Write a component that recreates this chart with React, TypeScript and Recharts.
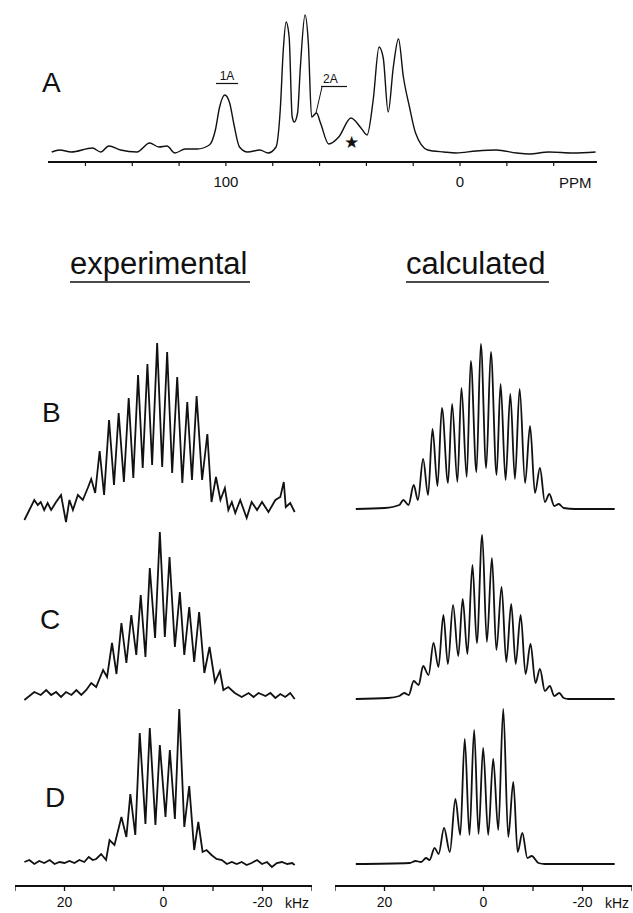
import { LineChart, Line, XAxis, YAxis } from 'recharts';

const FONT = '"Liberation Sans", Arial, Helvetica, sans-serif';
const INK = '#111';

// Panel A: 13C spectrum, chemical shift in ppm
const ppmA = [174.4, 171, 166, 157, 153.5, 150, 145, 138, 132.6, 128.6, 125.2, 121.8, 117.4, 112.3, 107.1, 104.5, 102.7, 100.5, 98.4, 96.7, 94.2, 90.7, 85.5, 82, 78.6, 76.8, 75.5, 74.3, 73, 71.7, 70.8, 69.4, 68.2, 66.2, 64.8, 63.4, 61.3, 59.6, 56.1, 51.8, 46.6, 42.3, 39.7, 37.1, 34.6, 32.8, 30.7, 28.5, 26.3, 24.2, 21.6, 19, 13.8, 6.9, 1.7, -6.9, -15.5, -24.2, -29.4, -38, -48.3, -57.9];
const intA = [0, 2, 0, 4, 0, 6, 2, 0, 9, 5, 6, -1, 3, 3, 7, 22, 45, 57, 49, 29, 5, 0, 2, -1, 5, 42, 102, 130, 115, 35, 30, 39, 85, 137, 109, 35, 39, 29, 8, 15, 34, 24, 17, 52, 105, 94, 40, 85, 113, 75, 45, 19, 2, 0, -1, 1, 2, -1, -2, 0, -1, 0];
const ppmTicks = [160, 140, 120, 100, 80, 60, 40, 20, 0, -20, -40];
const ppmLabels = [100, 0];

// Panels B-D: 2H spectra, kHz
const kHzTicks = [30, 20, 10, 0, -10, -20, -30];
const kHzLabels = [20, 0, -20];

const bExpK = [28.1, 27.1, 26.1, 25.4, 24.8, 24.1, 23.4, 22.7, 21.7, 20.7, 19.7, 19.0, 18.3, 17.3, 16.3, 15.3, 14.6, 13.8, 12.9, 12.0, 11.0, 10.0, 9.06, 8.0, 7.03, 6.1, 5.14, 4.2, 3.25, 2.3, 1.28, 0.27, -0.74, -1.75, -2.77, -3.8, -4.8, -5.75, -6.69, -7.8, -8.86, -9.7, -10.6, -11.5, -12.4, -13.1, -13.8, -14.5, -15.5, -16.8, -17.8, -18.9, -19.9, -21.2, -22.6, -23.6, -24.3, -24.7, -25.6, -26.5];
const bExpI = [-8, 2, 12, 7, 10, 2, 9, 2, 10, 17, -10, 12, 2, 17, 12, 24, 33, 19, 61, 17, 92, 27, 99, 30, 114, 34, 137, 44, 148, 47, 169, 45, 160, 39, 135, 29, 110, 32, 116, 32, 78, 10, 35, 12, 24, 2, 10, -1, 12, -6, 10, 2, 10, 0, 12, 15, 30, 5, 9, 0];

const cExpK = [28.1, 26.1, 24.8, 23.7, 22.7, 21.7, 20.7, 19.7, 18.6, 17.6, 16.6, 15.6, 14.6, 13.6, 12.2, 11.4, 10.4, 9.5, 8.5, 7.5, 6.5, 5.5, 4.6, 3.65, 2.77, 1.7, 0.74, -0.27, -1.22, -2.3, -3.3, -4.2, -5.2, -6.2, -7.2, -8.25, -9.3, -10.4, -11.4, -12.1, -13.1, -14.4, -15.8, -17.2, -18.2, -19.2, -20.6, -21.6, -22.6, -23.6, -24.6, -25.6, -26.5];
const cExpI = [-5, 3, 0, 5, 0, 3, -2, 3, 0, 5, 0, 5, 12, 8, 25, 18, 52, 21, 72, 32, 80, 40, 100, 38, 127, 57, 163, 58, 138, 48, 103, 40, 88, 33, 83, 22, 48, 13, 24, 5, 8, 2, -2, 2, -2, 2, -1, 2, -3, 1, -2, 2, -4];

const dExpK = [28.1, 27.1, 26.1, 25.1, 24.1, 23.0, 22.0, 21.0, 20.0, 19.0, 18.0, 17.0, 16.0, 15.1, 14.3, 13.6, 12.6, 11.6, 10.9, 9.9, 8.5, 7.5, 6.7, 5.7, 4.8, 3.65, 2.77, 1.63, 0.74, -0.4, -1.28, -2.3, -3.18, -4.2, -5.2, -6.2, -7.03, -7.9, -8.7, -9.7, -10.7, -11.8, -12.8, -13.8, -14.8, -15.8, -16.8, -17.8, -18.9, -19.9, -20.9, -21.9, -22.9, -23.9, -25.0, -26.0, -26.5];
const dExpI = [0, 2, -2, 1, -1, 2, -2, 0, -1, 1, -1, 2, 0, 5, 2, 3, 8, 2, 22, 17, 45, 25, 68, 27, 129, 38, 134, 37, 117, 45, 112, 43, 153, 35, 76, 12, 40, 10, 12, 7, 3, 2, -2, 0, -2, 0, -3, -1, 2, -2, 0, -5, -1, 0, -2, -1, -3];

const bCalcK = [25.8, 20.0, 17.0, 16.2, 15.15, 14.1, 13.25, 12.2, 11.2, 10.3, 9.3, 8.4, 7.17, 6.35, 5.27, 4.46, 3.39, 2.57, 1.43, 0.54, -0.54, -1.49, -2.64, -3.45, -4.46, -5.41, -6.35, -7.3, -8.4, -9.4, -10.4, -11.4, -12.4, -13.3, -14.3, -15.2, -16.2, -18.5, -26.5];
const bCalcI = [0, 1, 4, 9, 4, 24, 9, 50, 14, 80, 23, 101, 26, 105, 27, 121, 32, 148, 37, 165, 41, 157, 34, 125, 29, 115, 30, 120, 26, 83, 16, 41, 7, 15, 3, 5, 1, 0, 0];

const cCalcK = [25.8, 19.3, 17.0, 16.0, 15.1, 14.1, 13.1, 12.2, 11.1, 10.1, 9.1, 8.1, 7.2, 6.15, 5.1, 4.2, 3.25, 2.23, 1.35, 0.27, -0.68, -1.7, -2.6, -3.65, -4.6, -5.6, -6.5, -7.5, -8.5, -9.5, -10.5, -11.4, -12.4, -13.4, -14.3, -15.3, -16.2, -17.2, -26.5];
const cCalcI = [0, 1, 3, 6, 4, 18, 14, 33, 24, 56, 32, 84, 35, 94, 43, 100, 45, 134, 56, 164, 57, 141, 49, 112, 37, 95, 35, 84, 25, 55, 16, 30, 8, 13, 3, 6, 1, 0, 0];

const dCalcK = [25.8, 14.9, 13.75, 12.6, 11.6, 10.9, 9.88, 9.06, 7.97, 6.8, 5.68, 4.7, 3.79, 2.84, 1.89, 1.0, 0.07, -0.95, -1.96, -2.98, -3.99, -5.0, -6.02, -6.9, -7.85, -8.86, -9.74, -11.1, -12.4, -26.5];
const dCalcI = [0, 1, 3, 2, 6, 4, 16, 10, 36, 12, 65, 29, 125, 29, 134, 30, 116, 29, 105, 34, 155, 27, 82, 12, 31, 6, 8, 1, 0, 0];

const rows = (xs: number[], ys: number[]) => xs.map((x, i) => ({ x, y: ys[i] }));

// plot area of the 2H columns spans y = 290 .. 886 (axis line)
const COL_TOP = 290;
const COL_AXIS = 886;
const span = (base: number) => [base - COL_AXIS, base - COL_TOP];

const expTraces = [
  { id: 'b', data: rows(bExpK, bExpI), base: 512 },
  { id: 'c', data: rows(cExpK, cExpI), base: 695 },
  { id: 'd', data: rows(dExpK, dExpI), base: 862 },
];
const calcTraces = [
  { id: 'b', data: rows(bCalcK, bCalcI), base: 509 },
  { id: 'c', data: rows(cCalcK, cCalcI), base: 699 },
  { id: 'd', data: rows(dCalcK, dCalcI), base: 864 },
];

function Column({ left, traces, curve }: { left: number; traces: typeof expTraces; curve: 'linear' | 'monotone' }) {
  return (
    <div style={{ position: 'absolute', left, top: COL_TOP }}>
      <LineChart width={297} height={COL_AXIS - COL_TOP + 30} margin={{ top: 0, right: 0, bottom: 0, left: 0 }}>
        <XAxis
          dataKey="x"
          type="number"
          domain={[-30, 30]}
          reversed
          allowDataOverflow
          ticks={kHzTicks}
          interval={0}
          tickFormatter={(v: number) => (kHzLabels.includes(v) ? String(v) : '')}
          axisLine={{ stroke: INK, strokeWidth: 2 }}
          tickLine={{ stroke: INK, strokeWidth: 1.3 }}
          tickSize={5}
          tickMargin={6}
          height={30}
          tick={{ fontSize: 14, fill: INK, fontFamily: FONT }}
        />
        {traces.map((t) => (
          <YAxis key={'y' + t.id} yAxisId={t.id} hide type="number" domain={span(t.base)} allowDataOverflow />
        ))}
        {traces.map((t) => (
          <Line
            key={t.id}
            yAxisId={t.id}
            data={t.data}
            dataKey="y"
            type={curve}
            stroke={INK}
            strokeWidth={1.8}
            dot={false}
            isAnimationActive={false}
          />
        ))}
      </LineChart>
    </div>
  );
}

export default function App() {
  const dataA = rows(ppmA, intA);
  return (
    <div style={{ position: 'absolute', left: 0, top: 0, width: 633, height: 913, background: '#fff', fontFamily: FONT }}>
      <div style={{ position: 'absolute', left: 48, top: 0 }}>
        <LineChart width={549} height={192} data={dataA} margin={{ top: 0, right: 0, bottom: 0, left: 0 }}>
          <XAxis
            dataKey="x"
            type="number"
            domain={[-58.5, 176]}
            reversed
            allowDataOverflow
            ticks={ppmTicks}
            interval={0}
            tickFormatter={(v: number) => (ppmLabels.includes(v) ? String(v) : '')}
            axisLine={{ stroke: INK, strokeWidth: 2 }}
            tickLine={{ stroke: INK, strokeWidth: 1.2 }}
            tickSize={4}
            tickMargin={10}
            height={30}
            tick={{ fontSize: 15, fill: INK, fontFamily: FONT }}
          />
          <YAxis hide type="number" domain={[-10, 152]} allowDataOverflow />
          <Line dataKey="y" type="monotone" stroke={INK} strokeWidth={1.4} dot={false} isAnimationActive={false} />
        </LineChart>
      </div>

      <Column left={15} traces={expTraces} curve="linear" />
      <Column left={335} traces={calcTraces} curve="monotone" />

      <svg width={633} height={913} style={{ position: 'absolute', left: 0, top: 0, pointerEvents: 'none' }}>
        <g fill={INK} fontFamily={FONT}>
          <text x={42} y={92} fontSize={28}>A</text>
          <text x={227} y={80} fontSize={12} textAnchor="middle">1A</text>
          <text x={323} y={83} fontSize={12}>2A</text>
          <text x={351} y={148} fontSize={17} textAnchor="middle">★</text>
          <text x={559} y={188} fontSize={15}>PPM</text>

          <text x={70} y={274} fontSize={31}>experimental</text>
          <text x={406} y={274} fontSize={31}>calculated</text>

          <text x={42} y={422} fontSize={28}>B</text>
          <text x={40} y={629} fontSize={28}>C</text>
          <text x={45} y={807} fontSize={28}>D</text>

          <text x={285} y={908} fontSize={14}>kHz</text>
          <text x={605} y={908} fontSize={14}>kHz</text>
        </g>
        <g stroke={INK} fill="none">
          <line x1={216} y1={83.5} x2={238} y2={83.5} strokeWidth={1.2} />
          <line x1={321} y1={86.5} x2={347} y2={86.5} strokeWidth={1.2} />
          <line x1={322} y1={87} x2={316} y2={113} strokeWidth={1} />
          <line x1={70} y1={282} x2={250} y2={282} strokeWidth={1.5} />
          <line x1={406} y1={282} x2={549} y2={282} strokeWidth={1.5} />
        </g>
      </svg>
    </div>
  );
}
